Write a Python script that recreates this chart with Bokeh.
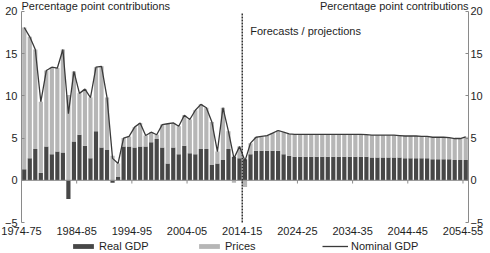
from bokeh.plotting import figure
from bokeh.models import (ColumnDataSource, FixedTicker, Label, Legend,
                          LegendItem, LinearAxis, Range1d)
from bokeh.embed import file_html
from bokeh.resources import INLINE

FONT = "Liberation Sans"
TXT = "#1e1e1e"

years = [f"{y}-{(y + 1) % 100:02d}" for y in range(1974, 2055)]
tick_labels = ["1974-75", "1984-85", "1994-95", "2004-05", "2014-15",
               "2024-25", "2034-35", "2044-45", "2054-55"]
y_ticks = [-5, 0, 5, 10, 15, 20]

real_gdp = [1.3, 2.6, 3.7, 0.9, 4.0, 3.1, 3.4, 3.3, -2.2, 4.6,
            5.4, 4.1, 2.6, 5.8, 3.9, 3.6, -0.3, 0.4, 4.0, 4.0,
            3.9, 4.0, 4.0, 4.5, 4.9, 3.9, 2.0, 3.9, 3.1, 4.1,
            3.2, 3.1, 3.7, 3.7, 1.8, 2.0, 2.4, 3.7, 2.8, 2.6,
            2.5, 3.1, 3.5, 3.5, 3.5, 3.5, 3.5, 3.1, 2.9, 2.8,
            2.8, 2.8, 2.8, 2.8, 2.8, 2.8, 2.8, 2.8, 2.8, 2.8,
            2.8, 2.8, 2.8, 2.7, 2.7, 2.7, 2.7, 2.7, 2.7, 2.6,
            2.6, 2.6, 2.6, 2.6, 2.5, 2.5, 2.5, 2.5, 2.4, 2.4,
            2.4]
prices = [16.8, 14.4, 11.8, 8.4, 9.0, 10.3, 9.9, 12.2, 10.1, 8.3,
          4.9, 6.7, 7.2, 7.6, 9.6, 6.2, 2.9, 1.6, 1.0, 1.2,
          2.4, 2.8, 1.3, 1.2, 0.5, 2.7, 4.7, 2.9, 3.3, 3.6,
          4.0, 5.2, 5.3, 4.9, 5.1, 1.4, 6.2, 2.1, -0.3, 1.4,
          -0.8, 1.3, 1.6, 1.7, 1.8, 2.1, 2.4, 2.6, 2.6, 2.65,
          2.65, 2.65, 2.65, 2.65, 2.65, 2.65, 2.65, 2.65, 2.65, 2.65,
          2.65, 2.65, 2.6, 2.65, 2.65, 2.65, 2.65, 2.65, 2.6, 2.65,
          2.65, 2.65, 2.6, 2.6, 2.6, 2.6, 2.6, 2.55, 2.55, 2.55,
          2.75]
nominal_gdp = [18.1, 17.0, 15.5, 9.3, 13.0, 13.4, 13.3, 15.5, 7.9, 12.9,
               10.3, 10.8, 9.8, 13.4, 13.5, 9.8, 2.6, 2.0, 5.0, 5.2,
               6.3, 6.8, 5.3, 5.7, 5.4, 6.6, 6.7, 6.8, 6.4, 7.7,
               7.2, 8.3, 9.0, 8.6, 6.9, 3.4, 8.6, 5.8, 2.6, 4.0,
               2.3, 4.4, 5.1, 5.2, 5.3, 5.6, 5.9, 5.7, 5.5, 5.45,
               5.45, 5.45, 5.45, 5.45, 5.45, 5.45, 5.45, 5.45, 5.45, 5.45,
               5.45, 5.45, 5.4, 5.35, 5.35, 5.35, 5.35, 5.35, 5.3, 5.25,
               5.25, 5.25, 5.2, 5.2, 5.1, 5.1, 5.1, 5.05, 4.95, 4.95,
               5.15]

forecast_start = years.index("2014-15")

n = len(years)
xc = [i + 0.5 for i in range(n)]
real_bottom = [min(0, r) for r in real_gdp]
real_top = [max(0, r) for r in real_gdp]
pr_bottom = [max(0, r) if pv >= 0 else min(0, r) for r, pv in zip(real_gdp, prices)]
pr_top = [b + pv for b, pv in zip(pr_bottom, prices)]

src = ColumnDataSource(dict(x=xc, rb=real_bottom, rt=real_top,
                            pb=pr_bottom, pt=pr_top, nom=nominal_gdp))

y_lo, y_hi = y_ticks[0], y_ticks[-1]
# the frame covers the whole canvas; the plotting box runs from x=0 (21 px) to x=81 (468 px)
# and from -5 (222 px) to 20 (11 px); axes are pinned at those edges
p = figure(frame_width=490, frame_height=253, x_range=Range1d(-3.805, n + 3.987),
           y_range=Range1d(y_lo - 3.67, y_hi + 1.30),
           output_backend="svg", toolbar_location=None,
           min_border_left=0, min_border_right=0, min_border_top=0,
           min_border_bottom=0)
p.xgrid.visible = False
p.ygrid.visible = False
p.outline_line_color = None
p.background_fill_color = "white"
p.border_fill_color = "white"

r_real = p.vbar(x="x", bottom="rb", top="rt", width=0.76, source=src,
                fill_color="#474747", line_color=None)
r_pr = p.vbar(x="x", bottom="pb", top="pt", width=0.76, source=src,
              fill_color="#b6b6b6", line_color=None)
r_nom = p.line(x="x", y="nom", source=src, line_color="#3a3a3a", line_width=1.3)

# zero line and decade ticks
p.segment(x0=[0], y0=[0], x1=[n], y1=[0], line_color="#8a8a8a", line_width=1)
tick_pos = [years.index(t) for t in tick_labels]
p.segment(x0=tick_pos, y0=[0] * len(tick_pos), x1=tick_pos, y1=[-0.38] * len(tick_pos),
          line_color="#8a8a8a", line_width=1)

# forecast divider
p.segment(x0=[forecast_start], y0=[y_lo], x1=[forecast_start], y1=[y_hi - 0.2],
          line_color="#333333", line_width=1.5, line_dash="2 1")

# axes
def style_y(ax):
    ax.ticker = FixedTicker(ticks=y_ticks)
    ax.bounds = (y_lo, y_hi)
    ax.axis_line_color = "#8a8a8a"
    ax.major_tick_line_color = "#8a8a8a"
    ax.major_tick_in = 3
    ax.major_tick_out = 0
    ax.minor_tick_line_color = None
    ax.minor_tick_in = 0
    ax.minor_tick_out = 0
    ax.major_label_text_font = FONT
    ax.major_label_text_font_size = "11px"
    ax.major_label_text_color = TXT

ly = p.yaxis[0]
style_y(ly)
ly.fixed_location = 0
ly.major_label_standoff = 4
ry = LinearAxis(fixed_location=n)
style_y(ry)
ry.major_label_standoff = 2
p.add_layout(ry, "right")

xa = p.xaxis[0]
xa.fixed_location = y_lo
xa.ticker = FixedTicker(ticks=tick_pos)
xa.major_label_overrides = {tp: lab for tp, lab in zip(tick_pos, tick_labels)}
xa.axis_line_color = None
xa.major_tick_line_color = None
xa.minor_tick_line_color = None
xa.major_tick_in = 0
xa.major_tick_out = 0
xa.minor_tick_in = 0
xa.minor_tick_out = 0
xa.major_label_standoff = 4
xa.major_label_text_font = FONT
xa.major_label_text_font_size = "11px"
xa.major_label_text_color = TXT

# titles
p.add_layout(Label(x=0, y=y_hi, text="Percentage point contributions", text_align="left",
                   text_baseline="bottom", text_font=FONT, text_font_size="11px",
                   text_color=TXT, y_offset=-1))
p.add_layout(Label(x=n, y=y_hi, text="Percentage point contributions", text_align="right",
                   text_baseline="bottom", text_font=FONT, text_font_size="11px",
                   text_color=TXT, y_offset=-1))
p.add_layout(Label(x=forecast_start, y=18.4, x_offset=8, text="Forecasts / projections",
                   text_align="left", text_baseline="top", text_font=FONT,
                   text_font_size="11px", text_color=TXT))

# legend at the foot of the chart
leg = Legend(items=[LegendItem(label="Real GDP", renderers=[r_real]),
                    LegendItem(label="Prices", renderers=[r_pr]),
                    LegendItem(label="Nominal GDP", renderers=[r_nom])],
             location=(70, 1), orientation="horizontal", background_fill_alpha=0,
             border_line_color=None, padding=0, margin=0, spacing=27,
             glyph_width=26, glyph_height=6, label_standoff=3, label_width=70,
             label_height=11, label_text_font=FONT, label_text_font_size="11px",
             label_text_color=TXT)
p.add_layout(leg)

open("out.html", "w").write(file_html(p, INLINE))
